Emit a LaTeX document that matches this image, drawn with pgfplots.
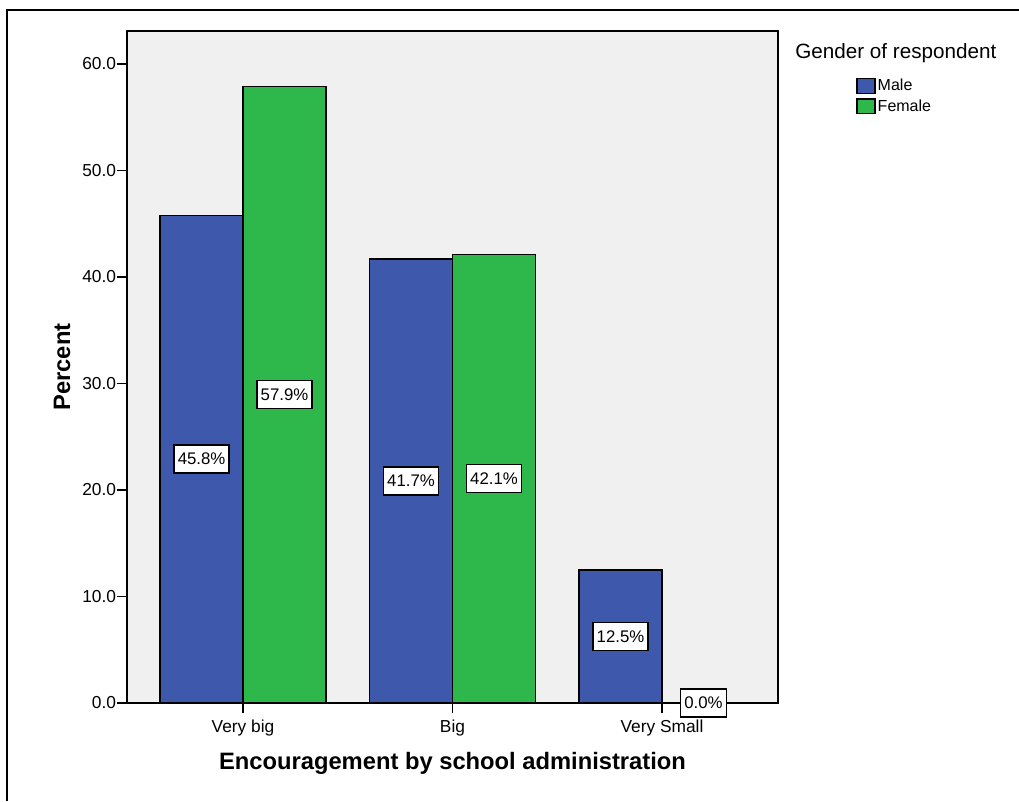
\documentclass[border=0pt]{standalone}
\usepackage{pgfplots}
\pgfplotsset{compat=1.18}
\usepackage{fontspec}
\setmainfont{Liberation Sans}
\definecolor{barblue}{RGB}{62,88,172}
\definecolor{bargreen}{RGB}{46,184,76}
\definecolor{bggray}{RGB}{240,240,240}
\begin{document}
\begin{tikzpicture}
\path[use as bounding box] (0pt,0pt) rectangle (764.25pt,600.75pt);
\draw[line width=1.5pt] (5.25pt,0pt) -- (5.25pt,593.25pt) -- (764.25pt,593.25pt);
\begin{axis}[
  at={(95.25pt,73.5pt)}, anchor=south west,
  scale only axis, width=488.25pt, height=504pt,
  xmin=-0.554, xmax=2.554, ymin=0, ymax=63.1,
  axis background/.style={fill=bggray},
  axis line style={line width=0.9pt},
  clip=false,
  xtick={0,1,2}, xticklabels={Very big, Big, Very Small},
  ytick={0,10,20,30,40,50,60},
  tick align=outside, xtick pos=bottom, ytick pos=left,
  major tick length=7.5pt,
  tick style={black, line width=0.9pt},
  /pgf/number format/assume math mode=true,
  yticklabel style={/pgf/number format/.cd, fixed, fixed zerofill, precision=1, /tikz/.cd, font=\fontsize{13}{15}\selectfont, inner sep=0pt, xshift=-0.5pt},
  xticklabel style={font=\fontsize{13}{15}\selectfont, yshift=-2pt},
  xlabel={Encouragement by school administration}, ylabel={Percent},
  every axis x label/.style={at={(axis description cs:0.5,-0.0893)}, anchor=center, font=\bfseries\fontsize{17.8}{20}\selectfont},
  every axis y label/.style={at={(axis description cs:-0.0998,0.5)}, anchor=center, rotate=90, font=\bfseries\fontsize{17.8}{20}\selectfont},
  ybar, bar width=0.396,
  nodes near coords={\pgfmathprintnumber[fixed,fixed zerofill,precision=1]{\pgfplotspointmeta}\%},
  visualization depends on=y \as \rawy,
  every node near coord/.append style={shift={(axis direction cs:0,-\rawy/2)}, anchor=center, fill=white, draw=black, text=black, line width=1pt, inner xsep=2.8pt, minimum height=21pt, font=\fontsize{12.6}{14}\selectfont},
  mylegend/.style={legend image code/.code={\draw[##1,line width=1pt] (0pt,-5.5pt) rectangle (13.5pt,5.5pt);}},
  legend entries={Male, Female},
  legend cell align=left,
  legend style={at={(axis description cs:1.12,0.9315)}, anchor=north west, draw=none, fill=none, font=\fontsize{12}{14}\selectfont, row sep=2pt, inner sep=0pt, nodes={inner sep=1.5pt}},
]
\addplot[fill=barblue, draw=black, line width=1pt, bar shift=-0.198, mylegend] coordinates {(0,45.8) (1,41.7) (2,12.5)};
\addplot[fill=bargreen, draw=black, line width=1pt, bar shift=0.198, mylegend] coordinates {(0,57.9) (1,42.1) (2,0.0)};
\draw[line width=1.5pt] (axis cs:-0.554,0) -- (axis cs:2.396,0);
\node[anchor=base west, inner sep=0pt, font=\fontsize{15.5}{18}\selectfont] at (axis description cs:1.0261,0.9598) {Gender of respondent};
\end{axis}
\end{tikzpicture}
\end{document}
